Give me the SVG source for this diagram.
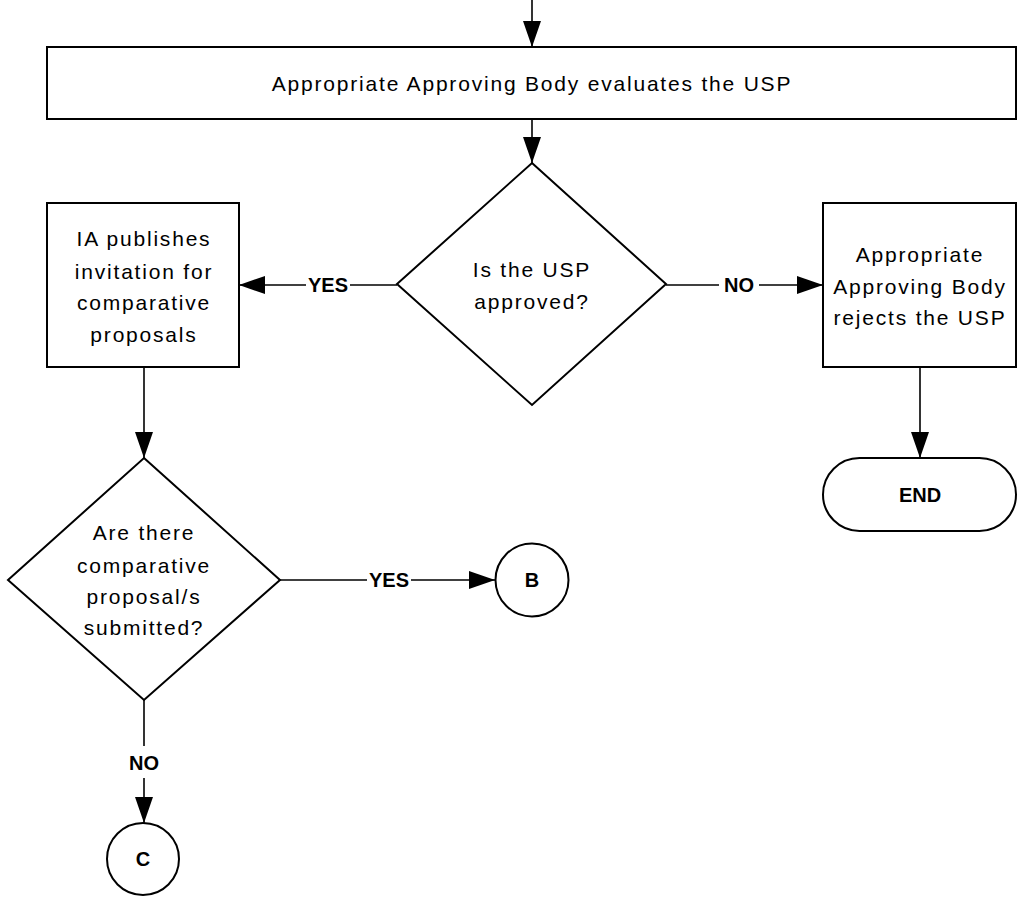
<svg xmlns="http://www.w3.org/2000/svg" width="1022" height="899" viewBox="0 0 1022 899">
<defs>
<style>
.shape{fill:#fff;stroke:#000;stroke-width:2}
.line{fill:none;stroke:#000;stroke-width:1.6}
.t{font-family:"Liberation Sans",Arial,sans-serif;font-size:21px;letter-spacing:1.8px;fill:#000;text-anchor:middle}
.b{font-family:"Liberation Sans",Arial,sans-serif;font-size:20px;font-weight:bold;fill:#000;text-anchor:middle}
</style>
<marker id="arr" markerUnits="userSpaceOnUse" markerWidth="26" markerHeight="18" refX="26" refY="9" orient="auto">
<path d="M0,0 L26,9 L0,18 Z" fill="#000"/>
</marker>
</defs>
<rect width="1022" height="899" fill="#fff"/>
<g id="connectors">
<line class="line" x1="532" y1="0" x2="532" y2="47" marker-end="url(#arr)"/>
<line class="line" x1="532" y1="119" x2="532" y2="163" marker-end="url(#arr)"/>
<line class="line" x1="397" y1="285" x2="239" y2="285" marker-end="url(#arr)"/>
<line class="line" x1="666" y1="285" x2="823" y2="285" marker-end="url(#arr)"/>
<line class="line" x1="920" y1="367" x2="920" y2="458" marker-end="url(#arr)"/>
<line class="line" x1="144" y1="367" x2="144" y2="458" marker-end="url(#arr)"/>
<line class="line" x1="280" y1="580" x2="495" y2="580" marker-end="url(#arr)"/>
<line class="line" x1="144" y1="700" x2="144" y2="823" marker-end="url(#arr)"/>
<rect x="306" y="274" width="44" height="22" fill="#fff"/>
<text class="b" x="328" y="292">YES</text>
<rect x="719" y="274" width="40" height="22" fill="#fff"/>
<text class="b" x="739" y="292">NO</text>
<rect x="367" y="569" width="44" height="22" fill="#fff"/>
<text class="b" x="389" y="587">YES</text>
<rect x="124" y="746" width="40" height="32" fill="#fff"/>
<text class="b" x="144" y="770">NO</text>
</g>
<g id="evaluate">
<rect class="shape" x="47" y="47" width="969" height="72"/>
<text class="t" x="532" y="91">Appropriate Approving Body evaluates the USP</text>
</g>
<g id="approved">
<polygon class="shape" points="532,163 666,284 532,405 397,284"/>
<text class="t" x="532" y="277">Is the USP</text>
<text class="t" x="532" y="309">approved?</text>
</g>
<g id="publish">
<rect class="shape" x="47" y="203" width="192" height="164"/>
<text class="t" x="144" y="246">IA publishes</text>
<text class="t" x="144" y="279">invitation for</text>
<text class="t" x="144" y="310">comparative</text>
<text class="t" x="144" y="342">proposals</text>
</g>
<g id="reject">
<rect class="shape" x="823" y="203" width="193" height="164"/>
<text class="t" x="920" y="262">Appropriate</text>
<text class="t" x="920" y="294">Approving Body</text>
<text class="t" x="920" y="325">rejects the USP</text>
</g>
<g id="end">
<rect class="shape" x="823" y="458" width="193" height="73" rx="36.5" ry="36.5"/>
<text class="b" x="920" y="502">END</text>
</g>
<g id="comparative">
<polygon class="shape" points="144,458 280,580 144,700 8,580"/>
<text class="t" x="144" y="540">Are there</text>
<text class="t" x="144" y="573">comparative</text>
<text class="t" x="144" y="604">proposal/s</text>
<text class="t" x="144" y="635">submitted?</text>
</g>
<g id="B">
<circle class="shape" cx="532" cy="580" r="36.5"/>
<text class="b" x="532" y="587">B</text>
</g>
<g id="C">
<circle class="shape" cx="143" cy="859" r="36"/>
<text class="b" x="143" y="866">C</text>
</g>
</svg>
